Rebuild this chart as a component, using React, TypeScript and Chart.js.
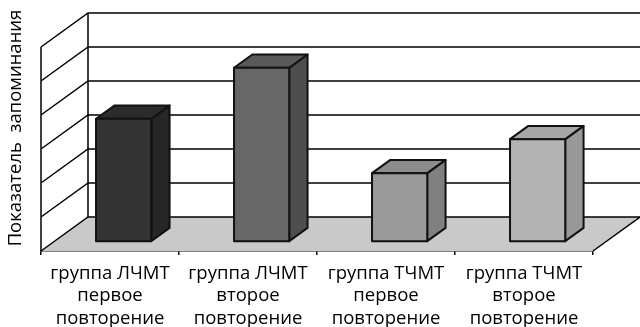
import React, { useEffect, useRef } from "react";
import { Chart, registerables } from "chart.js";

Chart.register(...registerables);

// Categories (multi-line tick labels)
const categories: string[][] = [
  ["группа ЛЧМТ", "первое", "повторение"],
  ["группа ЛЧМТ", "второе", "повторение"],
  ["группа ТЧМТ", "первое", "повторение"],
  ["группа ТЧМТ", "второе", "повторение"],
];

// Memorization index per group
const values: number[] = [3.6, 5.1, 2.0, 3.0];

// Gridline levels on the walls
const gridLevels: number[] = [0, 1, 2, 3, 4, 5, 6];

const axisTitle = "Показатель  запоминания";

// Face shades for each column
const frontColors = ["#343434", "#676767", "#9a9a9a", "#b3b3b3"];
const topColors = ["#2c2c2c", "#595959", "#8c8c8c", "#a6a6a6"];
const sideColors = ["#262626", "#4e4e4e", "#808080", "#999999"];

const FLOOR_COLOR = "#c9c9c9";
const FONT = "'Open Sans', sans-serif";
const FONT_SIZE = 18.5;

// Oblique projection of the full depth of the plot box
const DEPTH_X = 47;
const DEPTH_Y = 34;
// Where the columns sit inside the depth (fractions of full depth)
const BAR_FRONT = 0.29;
const BAR_DEPTH = 0.39;

const line = (ctx: CanvasRenderingContext2D, pts: number[][]) => {
  ctx.beginPath();
  ctx.moveTo(pts[0][0], pts[0][1]);
  for (let i = 1; i < pts.length; i++) ctx.lineTo(pts[i][0], pts[i][1]);
};

const box3d = {
  id: "box3d",
  beforeDatasetsDraw(chart: any) {
    const { ctx, chartArea, scales } = chart;
    const ys = scales.y;
    const left = chartArea.left;
    const right = chartArea.right;
    const y0 = ys.getPixelForValue(0);
    const yTop = ys.getPixelForValue(gridLevels[gridLevels.length - 1]);
    const farRight = chart.width + 10;

    ctx.save();

    // floor
    line(ctx, [
      [left, y0],
      [right, y0],
      [right + DEPTH_X, y0 - DEPTH_Y],
      [left + DEPTH_X, y0 - DEPTH_Y],
    ]);
    ctx.closePath();
    ctx.fillStyle = FLOOR_COLOR;
    ctx.fill();

    // side wall diagonals and back wall gridlines
    ctx.strokeStyle = "#000";
    ctx.lineWidth = 1.5;
    ctx.lineJoin = "miter";
    for (const v of gridLevels) {
      const yf = ys.getPixelForValue(v);
      line(ctx, [
        [left, yf],
        [left + DEPTH_X, yf - DEPTH_Y],
        [farRight, yf - DEPTH_Y],
      ]);
      ctx.stroke();
    }
    // wall verticals
    line(ctx, [[left, y0], [left, yTop]]);
    ctx.stroke();
    line(ctx, [[left + DEPTH_X, y0 - DEPTH_Y], [left + DEPTH_X, yTop - DEPTH_Y]]);
    ctx.stroke();
    // right floor edge
    line(ctx, [[right, y0], [right + DEPTH_X, y0 - DEPTH_Y]]);
    ctx.stroke();

    // columns
    const meta = chart.getDatasetMeta(0);
    const dx = DEPTH_X * BAR_DEPTH;
    const dy = DEPTH_Y * BAR_DEPTH;
    meta.data.forEach((bar: any, i: number) => {
      const p = bar.getProps(["x", "y", "base", "width"], true);
      const L = p.x - p.width / 2 + DEPTH_X * BAR_FRONT;
      const R = L + p.width;
      const B = p.base - DEPTH_Y * BAR_FRONT;
      const T = p.y - DEPTH_Y * BAR_FRONT;
      ctx.lineWidth = 2;
      ctx.lineJoin = "round";
      ctx.strokeStyle = "#111";

      // side
      line(ctx, [[R, B], [R + dx, B - dy], [R + dx, T - dy], [R, T]]);
      ctx.closePath();
      ctx.fillStyle = sideColors[i];
      ctx.fill();
      ctx.stroke();
      // top
      line(ctx, [[L, T], [L + dx, T - dy], [R + dx, T - dy], [R, T]]);
      ctx.closePath();
      ctx.fillStyle = topColors[i];
      ctx.fill();
      ctx.stroke();
      // front
      ctx.beginPath();
      ctx.rect(L, T, p.width, B - T);
      ctx.fillStyle = frontColors[i];
      ctx.fill();
      ctx.stroke();
    });

    // vertical axis title
    ctx.save();
    ctx.translate(21, 128);
    ctx.rotate(-Math.PI / 2);
    ctx.font = `${FONT_SIZE}px ${FONT}`;
    ctx.fillStyle = "#000";
    ctx.textAlign = "center";
    ctx.textBaseline = "alphabetic";
    ctx.fillText(axisTitle, 0, 0);
    ctx.restore();

    ctx.restore();
    return false;
  },
};

export default function App() {
  const ref = useRef<HTMLCanvasElement>(null);

  useEffect(() => {
    if (!ref.current) return;
    const chart = new Chart(ref.current, {
      type: "bar",
      data: {
        labels: categories,
        datasets: [
          {
            data: values,
            backgroundColor: frontColors,
            categoryPercentage: 1,
            barPercentage: 0.4,
          },
        ],
      },
      options: {
        responsive: false,
        animation: false,
        events: [],
        layout: { padding: { left: 41, top: 47, right: 47, bottom: 0 } },
        plugins: {
          legend: { display: false },
          tooltip: { enabled: false },
        },
        scales: {
          x: {
            z: 1,
            offset: true,
            grid: {
              display: true,
              offset: true,
              drawOnChartArea: false,
              drawTicks: true,
              tickLength: 4,
              color: "#000",
              lineWidth: 1.5,
            },
            border: { display: true, color: "#000", width: 1.5 },
            ticks: {
              color: "#000",
              font: { family: FONT, size: FONT_SIZE, lineHeight: 1.216 },
              maxRotation: 0,
              autoSkip: false,
              padding: 7,
            },
            afterFit: (s: any) => {
              s.height = 76;
            },
          },
          y: {
            display: false,
            min: 0,
            max: 6,
          },
        },
      },
      plugins: [box3d],
    });
    return () => chart.destroy();
  }, []);

  return (
    <div style={{ position: "fixed", left: 0, top: 0, width: 640, height: 327, background: "#fff" }}>
      <canvas ref={ref} width={640} height={327} />
    </div>
  );
}
